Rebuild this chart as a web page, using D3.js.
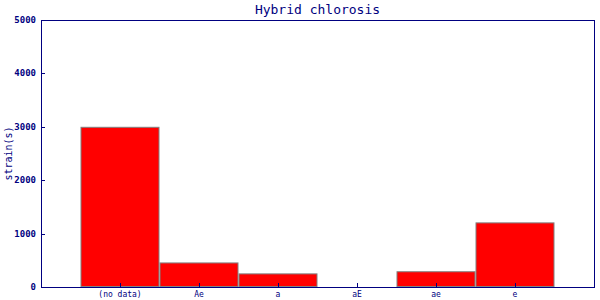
<!DOCTYPE html>
<html>
<head>
<meta charset="utf-8">
<script src="https://cdn.jsdelivr.net/npm/d3@7"></script>
<style>
  body { margin: 0; background: #fff; }
  text { font-family: "DejaVu Sans Mono", monospace; fill: #000080; }
</style>
</head>
<body>
<div id="chart"></div>
<script>
var categories = ["(no data)", "Ae", "a", "aE", "ae", "e"];
var strains = [3000, 460, 255, 0, 295, 1210];
var yTicks = [0, 1000, 2000, 3000, 4000, 5000];

var width = 600, height = 300;
var margin = { top: 20, right: 6, bottom: 13, left: 41 };
var x0 = margin.left, x1 = width - margin.right;
var y0 = height - margin.bottom, y1 = margin.top;

var svg = d3.select("#chart").append("svg")
    .attr("width", width)
    .attr("height", height);

// slots 0..n+1, categories sit on 1..n
var x = d3.scaleLinear().domain([0, categories.length + 1]).range([x0, x1]);
var y = d3.scaleLinear().domain([0, 5000]).range([y0, y1]);
var step = x(1) - x(0);

var rows = categories.map(function (c, i) {
    return { name: c, pos: i + 1, value: strains[i] };
});

// bars
svg.append("g")
    .selectAll("rect")
    .data(rows.filter(function (d) { return d.value > 0; }))
    .enter()
    .append("rect")
    .attr("x", function (d) { return x(d.pos) - step / 2 + 0.5; })
    .attr("y", function (d) { return y(d.value) + 0.5; })
    .attr("width", step - 1)
    .attr("height", function (d) { return y(0) - y(d.value) - 1; })
    .style("fill", "#ff0000")
    .style("stroke", "#808080")
    .style("stroke-width", 1);

// y ticks (inward)
svg.append("g")
    .selectAll("line")
    .data(yTicks)
    .enter()
    .append("line")
    .attr("x1", x0)
    .attr("x2", x0 + 4)
    .attr("y1", function (d) { return Math.round(y(d)) + 0.5; })
    .attr("y2", function (d) { return Math.round(y(d)) + 0.5; })
    .style("stroke", "#000080");

svg.append("g")
    .selectAll("text")
    .data(yTicks)
    .enter()
    .append("text")
    .attr("x", x0 - 5)
    .attr("y", function (d) { return y(d) + 3; })
    .attr("text-anchor", "end")
    .style("font-size", "9px")
    .style("font-weight", "bold")
    .text(function (d) { return d; });

// x ticks (inward)
svg.append("g")
    .selectAll("line")
    .data(rows)
    .enter()
    .append("line")
    .attr("x1", function (d) { return Math.round(x(d.pos)) + 0.5; })
    .attr("x2", function (d) { return Math.round(x(d.pos)) + 0.5; })
    .attr("y1", y0)
    .attr("y2", y0 - 4)
    .style("stroke", "#000080");

svg.append("g")
    .selectAll("text")
    .data(rows)
    .enter()
    .append("text")
    .attr("x", function (d) { return x(d.pos); })
    .attr("y", y0 + 10)
    .attr("text-anchor", "middle")
    .style("font-size", "8px")
    .text(function (d) { return d.name; });

// frame
svg.append("rect")
    .attr("x", x0 + 0.5)
    .attr("y", y1 + 0.5)
    .attr("width", x1 - x0)
    .attr("height", y0 - y1)
    .style("fill", "none")
    .style("stroke", "#000080")
    .style("stroke-width", 1);

// title
svg.append("text")
    .attr("x", (x0 + x1) / 2)
    .attr("y", 14)
    .attr("text-anchor", "middle")
    .style("font-size", "13px")
    .text("Hybrid chlorosis");

// y label
svg.append("text")
    .attr("transform", "translate(12," + ((y0 + y1) / 2) + ") rotate(-90)")
    .attr("text-anchor", "middle")
    .style("font-size", "10px")
    .text("strain(s)");
</script>
</body>
</html>
